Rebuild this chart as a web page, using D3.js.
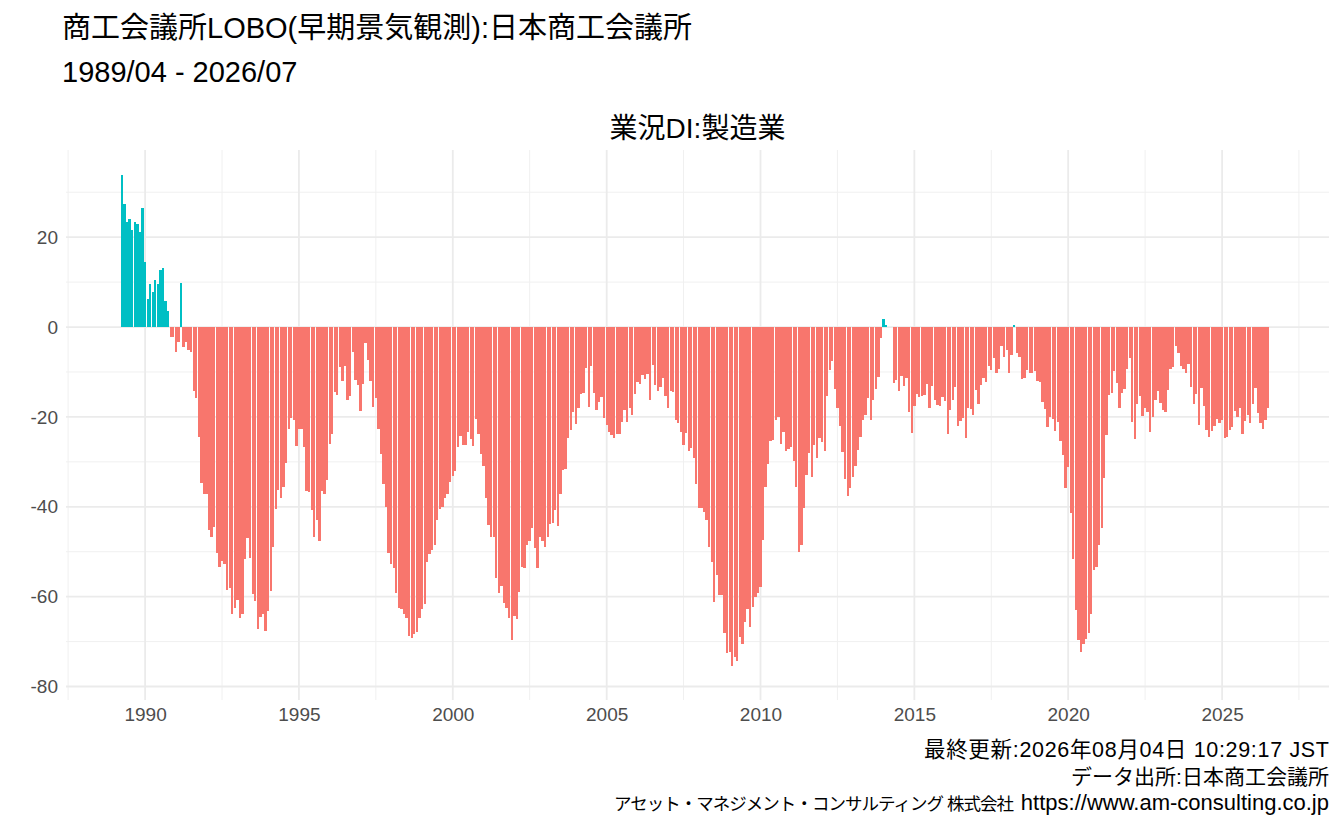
<!DOCTYPE html>
<html>
<head>
<meta charset="utf-8">
<script src="https://cdn.jsdelivr.net/npm/d3@7"></script>
<style>
  body { margin: 0; background: #fff; }
  svg text { font-family: "Liberation Sans", Arial, "Noto Sans CJK JP", sans-serif; }
</style>
</head>
<body>
<svg id="chart" width="1344" height="830"></svg>
<script>
// first month of the series
const startYear = 1989, startMonth = 4;

// 業況DI:製造業, monthly values
const di1989_1994 = [
  33.9, 27.4, 23.4, 24.0, 21.5, 23.4, 22.9, 21.2, 26.5,
  14.5, 6.2, 9.6, 7.8, 10.5, 9.6, 12.7, 13.1, 5.8, 3.6, -2.2, -2.2,
  -5.6, -3.3, 9.8, -4.5, -3.3, -5.1, -5.6, -14.3, -15.8, -24.5, -34.7, -37.2,
  -37.2, -45.2, -46.8, -44.5, -50.3, -53.5, -52.1, -52.8, -58.6, -58.1, -63.9, -62.6,
  -60.8, -64.8, -63.9, -51.7, -47.0, -51.4, -59.5, -61.0, -67.3, -64.6, -63.9, -67.7,
  -63.3, -58.8, -49.0, -40.5, -36.3, -38.1, -35.6, -30.3, -22.7, -20.3, -20.7, -26.5
];
const di1995_2000 = [
  -22.7, -22.7, -26.7, -36.5, -36.7, -40.8, -46.8, -43.0, -47.7, -36.5, -37.2, -34.1,
  -26.1, -23.8, -14.5, -15.1, -8.9, -12.0, -8.7, -16.3, -15.4, -5.6, -11.8, -12.9,
  -18.7, -12.7, -3.6, -7.3, -12.0, -17.8, -15.8, -22.7, -28.3, -35.0, -40.1, -50.3,
  -52.8, -53.7, -59.2, -62.6, -62.8, -63.9, -64.8, -68.8, -69.3, -68.4, -67.9, -64.8,
  -62.8, -61.7, -52.3, -50.6, -49.7, -48.6, -43.0, -40.5, -40.1, -38.1, -37.2, -34.5,
  -33.2, -32.1, -26.7, -24.3, -26.3, -26.3, -23.4, -24.9, -26.5, -20.5, -23.8, -28.3
];
const di2001_2006 = [
  -31.0, -38.1, -44.1, -46.8, -46.8, -55.9, -59.2, -57.7, -61.5, -62.6, -64.8, -69.7,
  -64.4, -65.0, -59.0, -53.5, -53.7, -48.6, -47.7, -44.8, -49.2, -53.7, -46.8, -47.7,
  -49.0, -46.8, -43.9, -43.7, -40.8, -44.3, -37.2, -31.8, -31.6, -24.7, -22.9, -18.9,
  -21.6, -18.0, -14.9, -14.7, -9.1, -17.8, -8.7, -14.7, -18.5, -16.7, -15.6, -20.3,
  -21.8, -23.4, -24.1, -24.7, -23.8, -23.8, -21.2, -18.5, -21.2, -18.0, -19.6, -14.9,
  -12.2, -12.7, -10.7, -11.6, -10.5, -16.3, -8.5, -12.9, -14.3, -13.4, -11.4, -15.4
];
const di2007_2012 = [
  -18.0, -14.3, -14.5, -20.7, -21.4, -23.4, -26.3, -23.6, -27.6, -26.9, -29.2, -35.0,
  -40.3, -40.3, -41.2, -43.0, -49.0, -52.3, -61.2, -55.2, -59.7, -59.7, -68.2, -72.6,
  -72.4, -75.5, -73.5, -74.4, -69.0, -70.6, -65.7, -62.8, -66.8, -62.4, -60.1, -59.2,
  -57.9, -47.4, -35.6, -30.5, -25.4, -25.2, -20.7, -20.0, -26.1, -23.4, -27.6, -27.2,
  -26.7, -29.8, -35.6, -50.1, -48.6, -40.3, -33.0, -28.1, -33.4, -26.3, -29.2, -24.7,
  -25.6, -27.6, -15.4, -9.6, -7.6, -13.8, -18.0, -22.0, -27.8, -33.9, -37.6, -35.9
];
const di2013_2018 = [
  -33.4, -31.0, -27.4, -24.5, -20.7, -19.6, -15.8, -20.7, -16.3, -13.8, -11.1, -2.4,
  1.8, 0.4, 0, 0, -12.5, -11.8, -14.3, -10.9, -13.1, -11.4, -18.9, -23.6,
  -17.6, -14.9, -15.6, -15.4, -15.1, -12.7, -18.0, -13.1, -16.3, -17.4, -17.6, -15.6,
  -16.5, -23.8, -18.5, -16.3, -13.4, -22.0, -20.9, -20.3, -24.7, -18.0, -18.3, -19.6,
  -14.0, -17.1, -12.9, -11.4, -12.2, -8.7, -9.6, -6.9, -10.2, -9.4, -4.2, -6.7,
  -5.1, -10.2, -6.2, 0.4, -5.8, -6.7, -11.6, -11.4, -9.6, -10.2, -10.2, -9.8
];
const di2019_2026 = [
  -12.0, -12.2, -16.7, -18.3, -22.3, -20.0, -20.5, -23.2, -21.2, -25.4, -28.5, -35.9,
  -31.2, -41.4, -51.7, -63.0, -69.7, -72.4, -70.6, -69.5, -68.2, -63.9, -54.1, -53.5,
  -48.6, -44.8, -33.6, -24.1, -15.1, -14.7, -9.8, -12.5, -18.0, -14.7, -13.8, -9.4,
  -6.9, -21.2, -24.9, -17.1, -15.4, -19.8, -18.0, -18.9, -23.4, -20.0, -16.3, -14.3,
  -16.9, -18.5, -18.9, -14.0, -9.4, -8.9, -4.2, -5.8, -8.7, -9.4, -10.2, -8.2,
  -13.4, -17.1, -14.9, -21.8, -13.6, -17.6, -22.9, -24.5, -23.2, -22.0, -20.5, -21.4,
  -20.7, -24.7, -24.5, -22.9, -22.3, -18.7, -20.0, -18.0, -23.8, -20.9, -19.6, -21.4,
  -17.1, -13.6, -19.2, -21.4, -22.7, -20.7, -18.0
];

const yTicks = [-80, -60, -40, -20, 0, 20];
const yMinorTicks = [-70, -50, -30, -10, 10, 30];
const xTickYears = [1990, 1995, 2000, 2005, 2010, 2015, 2020, 2025];

const titleText = "商工会議所LOBO(早期景気観測):日本商工会議所";
const subtitleText = "1989/04 - 2026/07";
const panelTitle = "業況DI:製造業";
const captionUpdated = "最終更新:2026年08月04日 10:29:17 JST";
const captionSource = "データ出所:日本商工会議所";
const captionCompany = "アセット・マネジメント・コンサルティング 株式会社";
const captionUrl = "https://www.am-consulting.co.jp";

const posColor = "#00BFC4", negColor = "#F8766D";

const svg = d3.select("#chart");
const panel = {left:66, right:1329, top:150, bottom:700};

const values = [].concat(di1989_1994, di1995_2000, di2001_2006, di2007_2012, di2013_2018, di2019_2026);
const data = values.map((v, i) => ({date: new Date(startYear, startMonth - 1 + i, 1), value: v}));

const x = d3.scaleTime()
  .domain([new Date(1987, 5, 7), new Date(2028, 5, 23)])
  .range([panel.left, panel.right]);

const y = d3.scaleLinear()
  .domain([-83, 39.4])
  .range([panel.bottom, panel.top]);

// grid (theme_minimal style)
const grid = svg.append("g");
const minorYears = d3.range(1987.5, 2030, 5).map(yr => new Date(Math.floor(yr), 6, 2));

grid.selectAll("line.ymin")
  .data(yMinorTicks)
  .join("line")
  .attr("x1", panel.left).attr("x2", panel.right)
  .attr("y1", d => y(d)).attr("y2", d => y(d))
  .attr("stroke", "#F0F0F0").attr("stroke-width", 1);

grid.selectAll("line.xmin")
  .data(minorYears.filter(d => x(d) >= panel.left && x(d) <= panel.right))
  .join("line")
  .attr("y1", panel.top).attr("y2", panel.bottom)
  .attr("x1", d => x(d)).attr("x2", d => x(d))
  .attr("stroke", "#F0F0F0").attr("stroke-width", 1);

grid.selectAll("line.ymaj")
  .data(yTicks)
  .join("line")
  .attr("x1", panel.left).attr("x2", panel.right)
  .attr("y1", d => y(d)).attr("y2", d => y(d))
  .attr("stroke", "#EBEBEB").attr("stroke-width", 1.8);

grid.selectAll("line.xmaj")
  .data(xTickYears)
  .join("line")
  .attr("y1", panel.top).attr("y2", panel.bottom)
  .attr("x1", d => x(new Date(d, 0, 1))).attr("x2", d => x(new Date(d, 0, 1)))
  .attr("stroke", "#EBEBEB").attr("stroke-width", 1.8);

// bars
svg.append("g")
  .attr("shape-rendering", "crispEdges")
  .selectAll("rect")
  .data(data)
  .join("rect")
  .attr("x", d => {
    const w = x(d3.timeMonth.offset(d.date, 1)) - x(d.date);
    return x(d.date) - w * 0.45;
  })
  .attr("width", d => (x(d3.timeMonth.offset(d.date, 1)) - x(d.date)) * 0.9)
  .attr("y", d => y(Math.max(0, d.value)))
  .attr("height", d => Math.abs(y(d.value) - y(0)))
  .attr("fill", d => d.value >= 0 ? posColor : negColor);

// axes text
const xAxis = d3.axisBottom(x)
  .tickValues(xTickYears.map(d => new Date(d, 0, 1)))
  .tickFormat(d3.timeFormat("%Y"))
  .tickSize(0).tickPadding(8);

svg.append("g")
  .attr("transform", `translate(0,${panel.bottom})`)
  .call(xAxis)
  .call(g => g.select(".domain").remove())
  .selectAll("text")
  .attr("fill", "#4D4D4D").style("font-size", "19px");

const yAxis = d3.axisLeft(y)
  .tickValues(yTicks)
  .tickFormat(d => String(d))
  .tickSize(0).tickPadding(8);

svg.append("g")
  .attr("transform", `translate(${panel.left},0)`)
  .call(yAxis)
  .call(g => g.select(".domain").remove())
  .selectAll("text")
  .attr("fill", "#4D4D4D").style("font-size", "19px");

// titles
svg.append("text")
  .attr("x", 62).attr("y", 38)
  .style("font-size", "29px").attr("fill", "#000")
  .text(titleText);

svg.append("text")
  .attr("x", 62).attr("y", 82)
  .style("font-size", "29px").attr("fill", "#000")
  .text(subtitleText);

svg.append("text")
  .attr("x", (panel.left + panel.right) / 2).attr("y", 138)
  .attr("text-anchor", "middle")
  .style("font-size", "28px").attr("fill", "#000")
  .text(panelTitle);

// caption
const cap = svg.append("g").attr("fill", "#000").attr("text-anchor", "end");

cap.append("text")
  .attr("x", panel.right).attr("y", 757)
  .attr("textLength", 405).attr("lengthAdjust", "spacing")
  .style("font-size", "21.5px")
  .text(captionUpdated);

cap.append("text")
  .attr("x", panel.right).attr("y", 783.5)
  .attr("textLength", 258).attr("lengthAdjust", "spacing")
  .style("font-size", "21px")
  .text(captionSource);

cap.append("text")
  .attr("x", panel.right).attr("y", 810)
  .style("font-size", "22px")
  .text(captionUrl);

cap.append("text")
  .attr("x", 1014).attr("y", 810)
  .attr("textLength", 400).attr("lengthAdjust", "spacing")
  .style("font-size", "17.5px")
  .text(captionCompany);
</script>
</body>
</html>
